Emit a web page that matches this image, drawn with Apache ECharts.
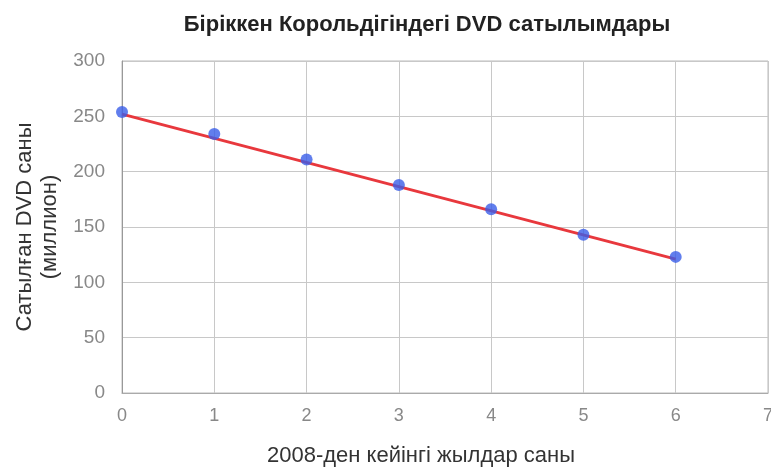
<!DOCTYPE html>
<html>
<head>
<meta charset="utf-8">
<script src="https://cdn.jsdelivr.net/npm/echarts@6/dist/echarts.min.js"></script>
<style>html,body{margin:0;padding:0;background:#fff}#c{width:771px;height:469px}</style>
</head>
<body>
<div id="c"></div>
<script>
const years = [0, 1, 2, 3, 4, 5, 6];
const sales = [254, 234, 211, 188, 166, 143, 123];
const trendX = [0, 6];
const trendY = [252, 121];
const titleText = 'Біріккен Корольдігіндегі DVD сатылымдары';
const xName = '2008-ден кейінгі жылдар саны';
const yName = 'Сатылған DVD саны\n(миллион)';

const FONT = 'Liberation Sans, Arial, sans-serif';
const chart = echarts.init(document.getElementById('c'));
chart.setOption({
  animation: false,
  textStyle: { fontFamily: FONT },
  title: {
    text: titleText, left: 422, top: 9, textAlign: 'center',
    textStyle: { fontSize: 22, fontWeight: 'bold', color: '#222', fontFamily: FONT }
  },
  grid: { left: 122, right: 3, top: 61, bottom: 76, show: true, borderColor: '#bbb', borderWidth: 1,
          containLabel: false, outerBoundsMode: 'none' },
  xAxis: {
    type: 'value', min: 0, max: 7, interval: 1,
    name: xName, nameLocation: 'middle', nameGap: 52,
    nameTextStyle: { fontSize: 22, color: '#333', padding: [0, 48, 0, 0] },
    axisLine: { show: true, lineStyle: { color: '#aaa' } },
    axisTick: { show: false },
    axisLabel: { color: '#888', fontSize: 18, margin: 14 },
    splitLine: { show: true, lineStyle: { color: '#c8c8c8' } }
  },
  yAxis: {
    type: 'value', min: 0, max: 300, interval: 50,
    name: yName, nameLocation: 'middle', nameGap: 57,
    nameTextStyle: { fontSize: 22, color: '#333', lineHeight: 25 },
    axisLine: { show: true, lineStyle: { color: '#999' } },
    axisTick: { show: false },
    axisLabel: { color: '#888', fontSize: 19, margin: 17 },
    splitLine: { show: true, lineStyle: { color: '#c8c8c8' } }
  },
  series: [
    {
      type: 'line', data: trendX.map((x, i) => [x, trendY[i]]),
      symbol: 'none', lineStyle: { color: '#e8383d', width: 3 }, z: 2
    },
    {
      type: 'scatter', data: years.map((x, i) => [x, sales[i]]),
      symbolSize: 12, itemStyle: { color: '#3a5ee8' }, z: 3
    }
  ]
});
</script>
</body>
</html>
